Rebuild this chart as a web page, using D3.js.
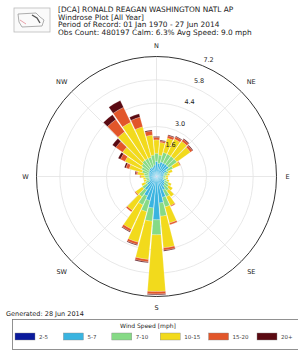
<!DOCTYPE html>
<html>
<head>
<meta charset="utf-8">
<script src="https://cdn.jsdelivr.net/npm/d3@7"></script>
<style>
  html, body { margin: 0; padding: 0; background: #fff; }
  svg { display: block; font-family: "DejaVu Sans", sans-serif; }
</style>
</head>
<body>
<svg id="rose" width="298" height="352"></svg>
<script>
// Direction bins (degrees), 10 degree bins
var directions = d3.range(0, 360, 10);

// Speed bins and colors
var speedBins = ["2-5", "5-7", "7-10", "10-15", "15-20", "20+"];
var speedColors = ["#0b1a9c", "#3ab4e0", "#86da86", "#f2da1c", "#e2562a", "#5a0a12"];

// Percent frequency for each speed bin, by direction (0, 10, ... 350)
var s2to5   = [0.05,0.05,0.05,0.05,0.05,0.05,0.05,0.05,0.05,0.05,0.05,0.05,0.05,0.05,0.05,0.05,0.05,0.05,0.05,0.05,0.05,0.05,0.05,0.05,0.05,0.05,0.05,0.05,0.05,0.05,0.05,0.05,0.05,0.05,0.05,0.05];
var s5to7   = [0.85,0.75,0.85,0.85,0.85,0.85,0.65,0.45,0.4,0.35,0.35,0.4,0.5,0.55,0.65,0.85,1.25,1.55,2.55,1.85,1.45,1.25,0.95,0.65,0.45,0.4,0.4,0.4,0.4,0.45,0.45,0.5,0.55,0.55,0.55,0.65];
var s7to10  = [0.5,0.5,0.6,0.6,0.6,0.6,0.4,0.25,0.2,0.15,0.15,0.2,0.25,0.3,0.35,0.45,0.6,0.8,0.9,0.8,0.7,0.6,0.5,0.35,0.25,0.2,0.2,0.25,0.3,0.4,0.5,0.55,0.6,0.6,0.6,0.6];
var s10to15 = [0.8,0.75,0.9,1.0,1.1,1.0,0.45,0.25,0.15,0.15,0.15,0.15,0.2,0.3,0.45,0.6,1.0,1.9,3.4,2.3,1.9,1.6,1.0,0.5,0.25,0.15,0.15,0.25,0.4,0.8,1.1,1.4,2.1,2.4,1.9,1.2];
var s15to20 = [0.15,0.1,0.15,0.15,0.15,0.15,0.05,0,0,0,0,0,0,0,0,0.05,0.1,0.15,0.15,0.15,0.15,0.15,0.1,0.05,0,0,0,0.05,0.1,0.2,0.3,0.5,0.9,1.0,0.6,0.25];
var s20plus = [0.05,0.05,0.05,0.05,0.05,0.05,0,0,0,0,0,0,0,0,0,0,0,0.05,0.05,0.05,0.05,0.05,0,0,0,0,0,0,0.05,0.1,0.15,0.25,0.35,0.45,0.2,0.05];
var seriesValues = [s2to5, s5to7, s7to10, s10to15, s15to20, s20plus];

// Radial tick labels
var rTicks = [1.6, 3.0, 4.4, 5.8, 7.2];
var rMax = 7.2;

// Compass labels
var compass = [
  {label: "N", angle: 0}, {label: "NE", angle: 45}, {label: "E", angle: 90}, {label: "SE", angle: 135},
  {label: "S", angle: 180}, {label: "SW", angle: 225}, {label: "W", angle: 270}, {label: "NW", angle: 315}
];

var titleLines = [
  "[DCA] RONALD REAGAN WASHINGTON NATL AP",
  "Windrose Plot [All Year]",
  "Period of Record: 01 Jan 1970 - 27 Jun 2014",
  "Obs Count: 480197 Calm: 6.3% Avg Speed: 9.0 mph"
];

var svg = d3.select("#rose");
var cx = 156.5, cy = 176.5, radius = 120;

var r = d3.scaleLinear().domain([0, rMax]).range([0, radius]);
var toRad = function(deg) { return deg * Math.PI / 180; };

var plot = svg.append("g")
  .attr("transform", "translate(" + cx + "," + cy + ")");

// grid rings
plot.selectAll(".ring")
  .data(rTicks.slice(0, -1))
  .enter().append("circle")
  .attr("class", "ring")
  .attr("r", function(d) { return r(d); })
  .attr("fill", "none")
  .attr("stroke", "#e2e2e2")
  .attr("stroke-width", 0.8);

// spokes
plot.selectAll(".spoke")
  .data(compass)
  .enter().append("line")
  .attr("class", "spoke")
  .attr("x1", 0).attr("y1", 0)
  .attr("x2", function(d) { return radius * Math.sin(toRad(d.angle)); })
  .attr("y2", function(d) { return -radius * Math.cos(toRad(d.angle)); })
  .attr("stroke", "#e2e2e2")
  .attr("stroke-width", 0.8);

// stacked bars
var barWidth = 9;
var stacked = directions.map(function(dir, i) {
  var cum = 0;
  return seriesValues.map(function(s, k) {
    var seg = {dir: dir, k: k, r0: cum, r1: cum + s[i]};
    cum += s[i];
    return seg;
  });
});

var arc = d3.arc()
  .innerRadius(function(d) { return r(d.r0); })
  .outerRadius(function(d) { return r(d.r1); })
  .startAngle(function(d) { return toRad(d.dir - barWidth / 2); })
  .endAngle(function(d) { return toRad(d.dir + barWidth / 2); });

plot.selectAll(".dir")
  .data(stacked)
  .enter().append("g")
  .attr("class", "dir")
  .selectAll("path")
  .data(function(d) { return d.filter(function(s) { return s.r1 > s.r0; }); })
  .enter().append("path")
  .attr("d", arc)
  .attr("fill", function(d) { return speedColors[d.k]; })
  .attr("stroke", "#fff")
  .attr("stroke-width", 0.2);

// outer circle
plot.append("circle")
  .attr("r", radius)
  .attr("fill", "none")
  .attr("stroke", "#333")
  .attr("stroke-width", 1);

// radial labels
plot.selectAll(".rlabel")
  .data(rTicks)
  .enter().append("text")
  .attr("class", "rlabel")
  .attr("x", function(d) { return (r(d) + 8) * Math.sin(toRad(24)); })
  .attr("y", function(d) { return -(r(d) + 8) * Math.cos(toRad(24)); })
  .attr("dy", "0.35em")
  .attr("text-anchor", "middle")
  .attr("font-size", 6.5)
  .attr("fill", "#222")
  .text(function(d) { return d.toFixed(1); });

// compass labels
plot.selectAll(".clabel")
  .data(compass)
  .enter().append("text")
  .attr("class", "clabel")
  .attr("x", function(d) { return (d.angle % 90 ? radius + 14 : radius + 11) * Math.sin(toRad(d.angle)); })
  .attr("y", function(d) { return -(d.angle % 90 ? radius + 14 : radius + 11) * Math.cos(toRad(d.angle)); })
  .attr("dy", "0.35em")
  .attr("text-anchor", "middle")
  .attr("font-size", 6.5)
  .attr("fill", "#222")
  .text(function(d) { return d.label; });

// title
svg.append("g")
  .selectAll("text")
  .data(titleLines)
  .enter().append("text")
  .attr("x", 58)
  .attr("y", function(d, i) { return 12 + i * 7.5; })
  .attr("font-size", 7.4)
  .attr("fill", "#222")
  .text(function(d) { return d; });

// logo (simple sketch)
var logo = svg.append("g").attr("transform", "translate(14,8)");
logo.append("rect")
  .attr("width", 36).attr("height", 24)
  .attr("fill", "#fafafa").attr("stroke", "#bbb").attr("stroke-width", 0.8);
logo.append("path")
  .attr("d", "M4,6 L22,5 L26,9 L30,12 L28,18 L8,19 L5,14 Z")
  .attr("fill", "none").attr("stroke", "#999").attr("stroke-width", 0.8);
logo.append("path")
  .attr("d", "M18,7 L23,10 L26,15")
  .attr("fill", "none").attr("stroke", "#555").attr("stroke-width", 1.4);
logo.append("path")
  .attr("d", "M6,12 L12,16")
  .attr("fill", "none").attr("stroke", "#e8a0a8").attr("stroke-width", 1);

// generated
svg.append("text")
  .attr("x", 6).attr("y", 316)
  .attr("font-size", 6.5)
  .attr("fill", "#222")
  .text("Generated: 28 Jun 2014");

// legend
var legend = svg.append("g");
legend.append("rect")
  .attr("x", 12.5).attr("y", 319.5)
  .attr("width", 290).attr("height", 30)
  .attr("fill", "#fff").attr("stroke", "#777").attr("stroke-width", 0.8);
legend.append("text")
  .attr("x", 148).attr("y", 328)
  .attr("text-anchor", "middle")
  .attr("font-size", 6)
  .attr("fill", "#222")
  .text("Wind Speed [mph]");

var lx = d3.scalePoint().domain(speedBins).range([15, 257]);
var item = legend.selectAll(".item")
  .data(speedBins)
  .enter().append("g")
  .attr("class", "item")
  .attr("transform", function(d) { return "translate(" + lx(d) + ",333)"; });
item.append("rect")
  .attr("width", 20).attr("height", 7)
  .attr("fill", function(d, i) { return speedColors[i]; })
  .attr("stroke", "#888").attr("stroke-width", 0.4);
item.append("text")
  .attr("x", 24).attr("y", 6)
  .attr("font-size", 5.5)
  .attr("fill", "#444")
  .text(function(d) { return d; });
</script>
</body>
</html>
